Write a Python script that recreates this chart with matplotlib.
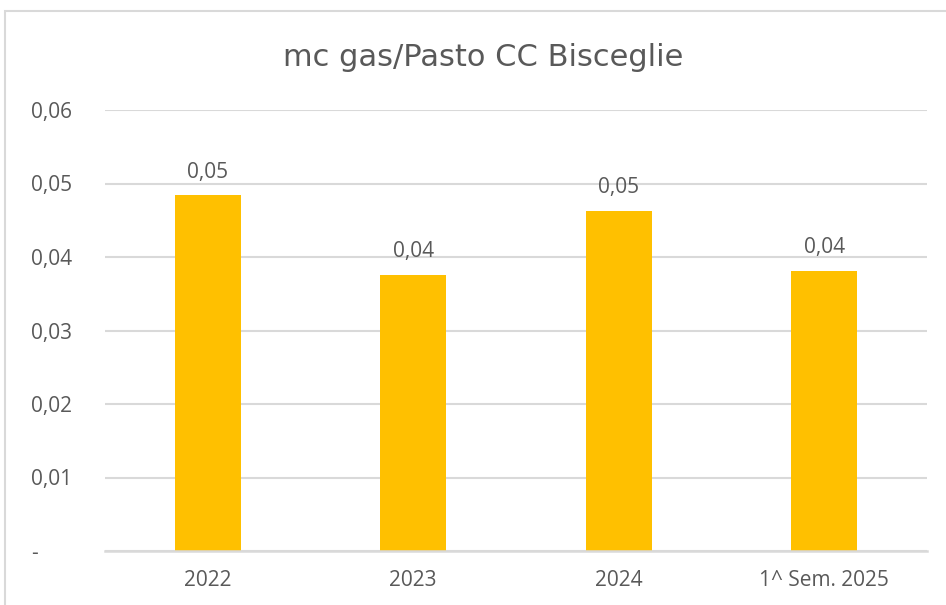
import matplotlib
matplotlib.use("Agg")
import matplotlib.pyplot as plt
from matplotlib.patches import Rectangle

categories = ["2022", "2023", "2024", "1^ Sem. 2025"]
values = [0.0484, 0.0376, 0.0463, 0.0381]
yticks = [0.0, 0.01, 0.02, 0.03, 0.04, 0.05, 0.06]
ytick_labels = ["-", "0,01", "0,02", "0,03", "0,04", "0,05", "0,06"]
title = "mc gas/Pasto CC Bisceglie"

bar_color = "#FFC000"
text_color = "#595959"
grid_color = "#D9D9D9"

W, H = 946, 605
plt.rcParams["font.family"] = ["Open Sans", "DejaVu Sans"]
fig = plt.figure(figsize=(W / 100, H / 100), dpi=100)

# outer chart border (left/top visible)
fig.patches.append(Rectangle((5 / W, -0.1), 1.2, 1.1 - 11 / H,
                             transform=fig.transFigure, fill=False,
                             edgecolor=grid_color, linewidth=1.5))

ax = fig.add_axes([105 / W, (H - 551) / H, (927 - 105) / W, (551 - 110) / H])
x = list(range(len(categories)))
ax.bar(x, values, width=0.32, color=bar_color, zorder=3)
ax.set_xlim(-0.5, len(categories) - 0.5)
ax.set_ylim(0, 0.06)
ax.set_yticks(yticks)
ax.set_yticklabels(ytick_labels)
ax.set_xticks(x)
ax.set_xticklabels(categories)
for lbl in ax.get_yticklabels():
    lbl.set_horizontalalignment("left")
ax.tick_params(axis="y", length=0, pad=(105 - 31) * 0.72, labelsize=15, labelcolor=text_color)
ax.tick_params(axis="x", length=0, pad=14, labelsize=15, labelcolor=text_color)
ax.grid(axis="y", color=grid_color, linewidth=1.5, zorder=0)
for s in ["top", "right", "left"]:
    ax.spines[s].set_visible(False)
ax.spines["bottom"].set_color(grid_color)
ax.spines["bottom"].set_linewidth(1.8)
ax.spines["bottom"].set_zorder(4)

for xi, v in zip(x, values):
    ax.annotate(f"{v:.2f}".replace(".", ","), (xi, v), xytext=(0, 9),
                textcoords="offset points", ha="center", va="bottom",
                fontsize=15, color=text_color)

fig.text(483 / W, (H - 57) / H, title, ha="center", va="center",
         fontsize=22, color=text_color, family=["DejaVu Sans"])

fig.savefig("out.png", dpi=100)
